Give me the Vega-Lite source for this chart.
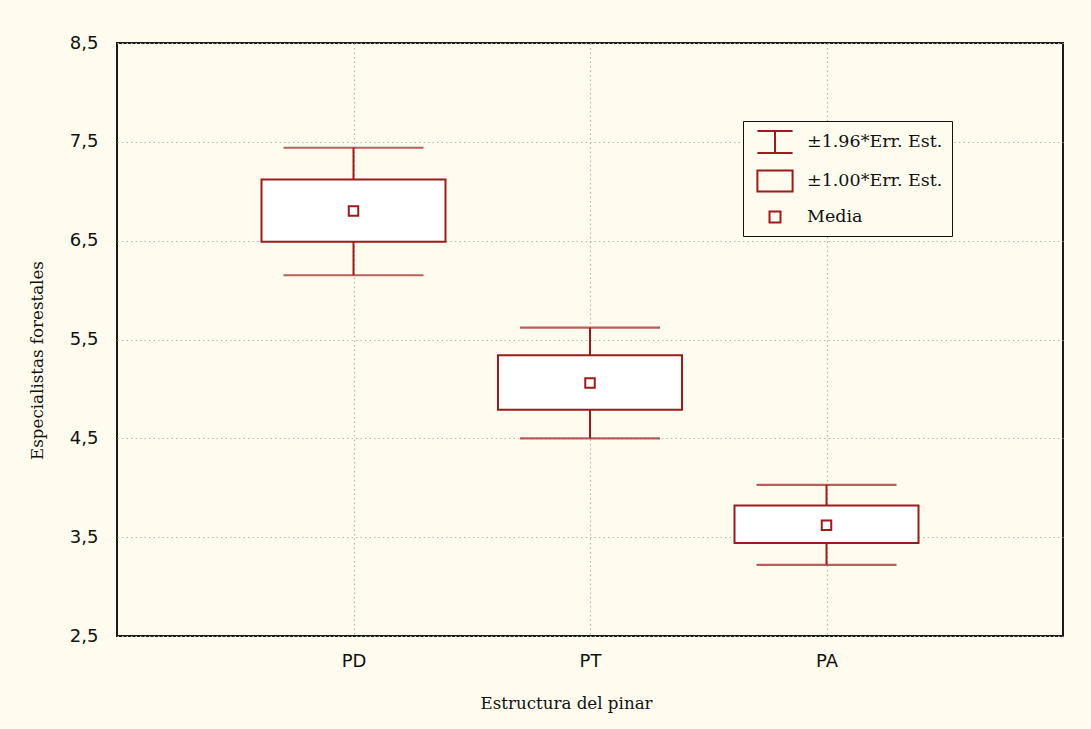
{
  "$schema": "https://vega.github.io/schema/vega-lite/v6.json",
  "width": 946,
  "height": 593,
  "autosize": {"type": "none"},
  "padding": {"left": 117, "top": 43, "right": 28, "bottom": 93},
  "background": "#FFFCEF",
  "config": {
    "view": {"stroke": "#1a1a1a", "strokeWidth": 2, "fill": "#FFFFFF"},
    "axis": {
      "gridColor": "#B4B4B4",
      "gridDash": [1.5, 3],
      "gridWidth": 1.2,
      "domain": false,
      "ticks": false,
      "labelFont": "DejaVu Sans",
      "labelFontSize": 18,
      "labelColor": "#111111",
      "titleFont": "DejaVu Serif",
      "titleFontSize": 16.7,
      "titleFontWeight": "normal",
      "titleColor": "#111111"
    }
  },
  "datasets": {
    "stats": [
      {"grupo": "PD", "lo196": 6.15, "lo1": 6.49, "media": 6.80, "hi1": 7.12, "hi196": 7.44},
      {"grupo": "PT", "lo196": 4.50, "lo1": 4.79, "media": 5.06, "hi1": 5.34, "hi196": 5.62},
      {"grupo": "PA", "lo196": 3.22, "lo1": 3.44, "media": 3.62, "hi1": 3.82, "hi196": 4.03}
    ],
    "leyenda": [
      {"etiqueta": "±1.96*Err. Est."},
      {"etiqueta": "±1.00*Err. Est."},
      {"etiqueta": "Media"}
    ]
  },
  "layer": [
    {
      "data": {"name": "stats"},
      "mark": {"type": "rule", "color": "#9E1B1B", "strokeWidth": 2},
      "encoding": {
        "x": {
          "field": "grupo", "type": "nominal", "sort": ["PD", "PT", "PA"],
          "scale": {"type": "point", "padding": 1},
          "axis": {
            "title": "Estructura del pinar",
            "labelAngle": 0,
            "labelPadding": 16,
            "grid": true,
            "titleX": 449,
            "titleY": 67,
            "titleAlign": "center",
            "titleBaseline": "middle"
          }
        },
        "y": {
          "field": "lo196", "type": "quantitative",
          "scale": {"domain": [2.5, 8.5], "nice": false, "zero": false},
          "axis": {
            "title": "Especialistas forestales",
            "values": [2.5, 3.5, 4.5, 5.5, 6.5, 7.5, 8.5],
            "labelExpr": "replace(format(datum.value, '.1f'), '.', ',')",
            "labelPadding": 19,
            "grid": true,
            "titleX": -80,
            "titleY": 317,
            "titleAngle": -90,
            "titleAlign": "center",
            "titleBaseline": "middle"
          }
        },
        "y2": {"field": "hi196"}
      }
    },
    {
      "data": {"name": "stats"},
      "mark": {"type": "tick", "color": "#9E1B1B", "size": 140, "thickness": 2.2, "orient": "horizontal"},
      "encoding": {
        "x": {"field": "grupo", "type": "nominal", "sort": ["PD", "PT", "PA"]},
        "y": {"field": "lo196", "type": "quantitative"}
      }
    },
    {
      "data": {"name": "stats"},
      "mark": {"type": "tick", "color": "#9E1B1B", "size": 140, "thickness": 2.2, "orient": "horizontal"},
      "encoding": {
        "x": {"field": "grupo", "type": "nominal", "sort": ["PD", "PT", "PA"]},
        "y": {"field": "hi196", "type": "quantitative"}
      }
    },
    {
      "data": {"name": "stats"},
      "mark": {"type": "bar", "width": 184, "fill": "#FFFFFF", "stroke": "#9E1B1B", "strokeWidth": 2},
      "encoding": {
        "x": {"field": "grupo", "type": "nominal", "sort": ["PD", "PT", "PA"]},
        "y": {"field": "lo1", "type": "quantitative"},
        "y2": {"field": "hi1"}
      }
    },
    {
      "data": {"name": "stats"},
      "mark": {"type": "point", "shape": "square", "size": 90, "filled": false, "stroke": "#9E1B1B", "strokeWidth": 2, "opacity": 1},
      "encoding": {
        "x": {"field": "grupo", "type": "nominal", "sort": ["PD", "PT", "PA"]},
        "y": {"field": "media", "type": "quantitative"}
      }
    },
    {
      "data": {"name": "leyenda"},
      "mark": {"type": "point", "opacity": 0, "filled": false, "stroke": "#9E1B1B", "strokeWidth": 2},
      "encoding": {
        "shape": {
          "field": "etiqueta", "type": "nominal",
          "scale": {
            "domain": ["±1.96*Err. Est.", "±1.00*Err. Est.", "Media"],
            "range": [
              "M-1.6,-1H1.6M0,-1V1M-1.6,1H1.6",
              "M-1.6,-0.95H1.6V0.95H-1.6Z",
              "M-0.5,-0.5H0.5V0.5H-0.5Z"
            ]
          },
          "legend": {
            "title": null,
            "orient": "none",
            "legendX": 626,
            "legendY": 78,
            "direction": "vertical",
            "fillColor": "#FFFCEF",
            "strokeColor": "#111111",
            "padding": 9,
            "rowPadding": 9,
            "symbolSize": 484,
            "symbolOffset": 11,
            "symbolStrokeWidth": 2,
            "symbolStrokeColor": "#9E1B1B",
            "symbolFillColor": "#FFFFFF",
            "symbolOpacity": 1,
            "labelOffset": 20,
            "labelFont": "DejaVu Serif",
            "labelFontSize": 17.5,
            "labelColor": "#111111",
            "labelLimit": 300,
            "encode": {
              "legend": {
                "update": {
                  "strokeWidth": {"value": 1.5}
                }
              },
              "symbols": {
                "update": {
                  "opacity": {"value": 1},
                  "fill": {"value": "#FFFFFF"},
                  "stroke": {"value": "#9E1B1B"},
                  "strokeWidth": {"value": 2}
                }
              }
            }
          }
        }
      }
    }
  ]
}
